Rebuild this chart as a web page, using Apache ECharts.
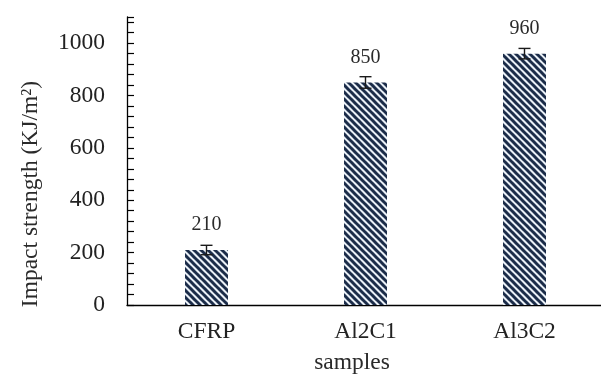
<!DOCTYPE html>
<html><head><meta charset="utf-8">
<script src="https://cdn.jsdelivr.net/npm/echarts@6/dist/echarts.min.js"></script>
<style>html,body{margin:0;padding:0;background:#fff}#c{width:601px;height:374px}</style>
</head><body><div id="c"></div>
<script>
const categories = ['CFRP', 'Al2C1', 'Al3C2'];
const values = [210, 850, 960];
const errors = [18, 22, 20];
const yTickLabels = [0, 200, 400, 600, 800, 1000];
const yTitle = 'Impact strength (KJ/m\u00B2)';
const xTitle = 'samples';

function stripePattern() {
  const p = 7;
  const c = document.createElement('canvas');
  c.width = p; c.height = p;
  const g = c.getContext('2d');
  g.fillStyle = '#eaf0f7';
  g.fillRect(0, 0, p, p);
  g.strokeStyle = '#1b2c49';
  g.lineWidth = 3;
  for (let k = -1; k <= 1; k++) {
    g.beginPath();
    g.moveTo(k * p - 1, -1);
    g.lineTo(k * p + p + 1, p + 1);
    g.stroke();
  }
  return c;
}

const FONT = 'Liberation Serif';
const chart = echarts.init(document.getElementById('c'), null, {renderer: 'canvas'});
const errData = values.map((v, i) => [i, v - errors[i], v + errors[i]]);

chart.setOption({
  animation: false,
  backgroundColor: '#fff',
  grid: {left: 127, top: 17, width: 477, height: 288, containLabel: false, outerBoundsMode: 'none'},
  xAxis: {
    type: 'category',
    data: categories,
    axisLine: {lineStyle: {color: '#000', width: 1.3}},
    axisTick: {show: false},
    axisLabel: {fontFamily: FONT, fontSize: 23.5, color: '#222', margin: 15}
  },
  yAxis: {
    type: 'value',
    min: 0, max: 1100, interval: 40,
    axisLine: {show: true, lineStyle: {color: '#000', width: 1.3}},
    axisTick: {show: true, inside: true, length: 7, lineStyle: {color: '#000', width: 1.2}},
    splitLine: {show: false},
    axisLabel: {
      fontFamily: FONT, fontSize: 23.5, color: '#222', margin: 22,
      formatter: v => yTickLabels.indexOf(v) >= 0 ? String(v) : ''
    }
  },
  graphic: [
    {type: 'text', x: 31, y: 194, rotation: Math.PI / 2,
     style: {text: yTitle, fontFamily: FONT, fontSize: 23.5, fill: '#2a2a2a', align: 'center', verticalAlign: 'middle'}},
    {type: 'text', x: 352, y: 363,
     style: {text: xTitle, fontFamily: FONT, fontSize: 23.5, fill: '#2a2a2a', align: 'center', verticalAlign: 'middle'}}
  ],
  series: [
    {
      type: 'bar',
      data: values,
      barWidth: 43,
      itemStyle: {color: {image: stripePattern(), repeat: 'repeat'}},
      label: {show: true, position: 'top', distance: 15, fontFamily: FONT, fontSize: 20, color: '#2a2a2a'}
    },
    {
      type: 'custom',
      data: errData,
      z: 10,
      renderItem: function (params, api) {
        const i = api.value(0);
        const lo = api.coord([i, api.value(1)]);
        const hi = api.coord([i, api.value(2)]);
        const hw = 6;
        const st = {stroke: '#1a1a1a', lineWidth: 1.4};
        return {type: 'group', children: [
          {type: 'line', shape: {x1: hi[0], y1: hi[1], x2: lo[0], y2: lo[1]}, style: st},
          {type: 'line', shape: {x1: hi[0] - hw, y1: hi[1], x2: hi[0] + hw, y2: hi[1]}, style: st},
          {type: 'line', shape: {x1: lo[0] - hw, y1: lo[1], x2: lo[0] + hw, y2: lo[1]}, style: st}
        ]};
      }
    }
  ]
});
</script></body></html>
